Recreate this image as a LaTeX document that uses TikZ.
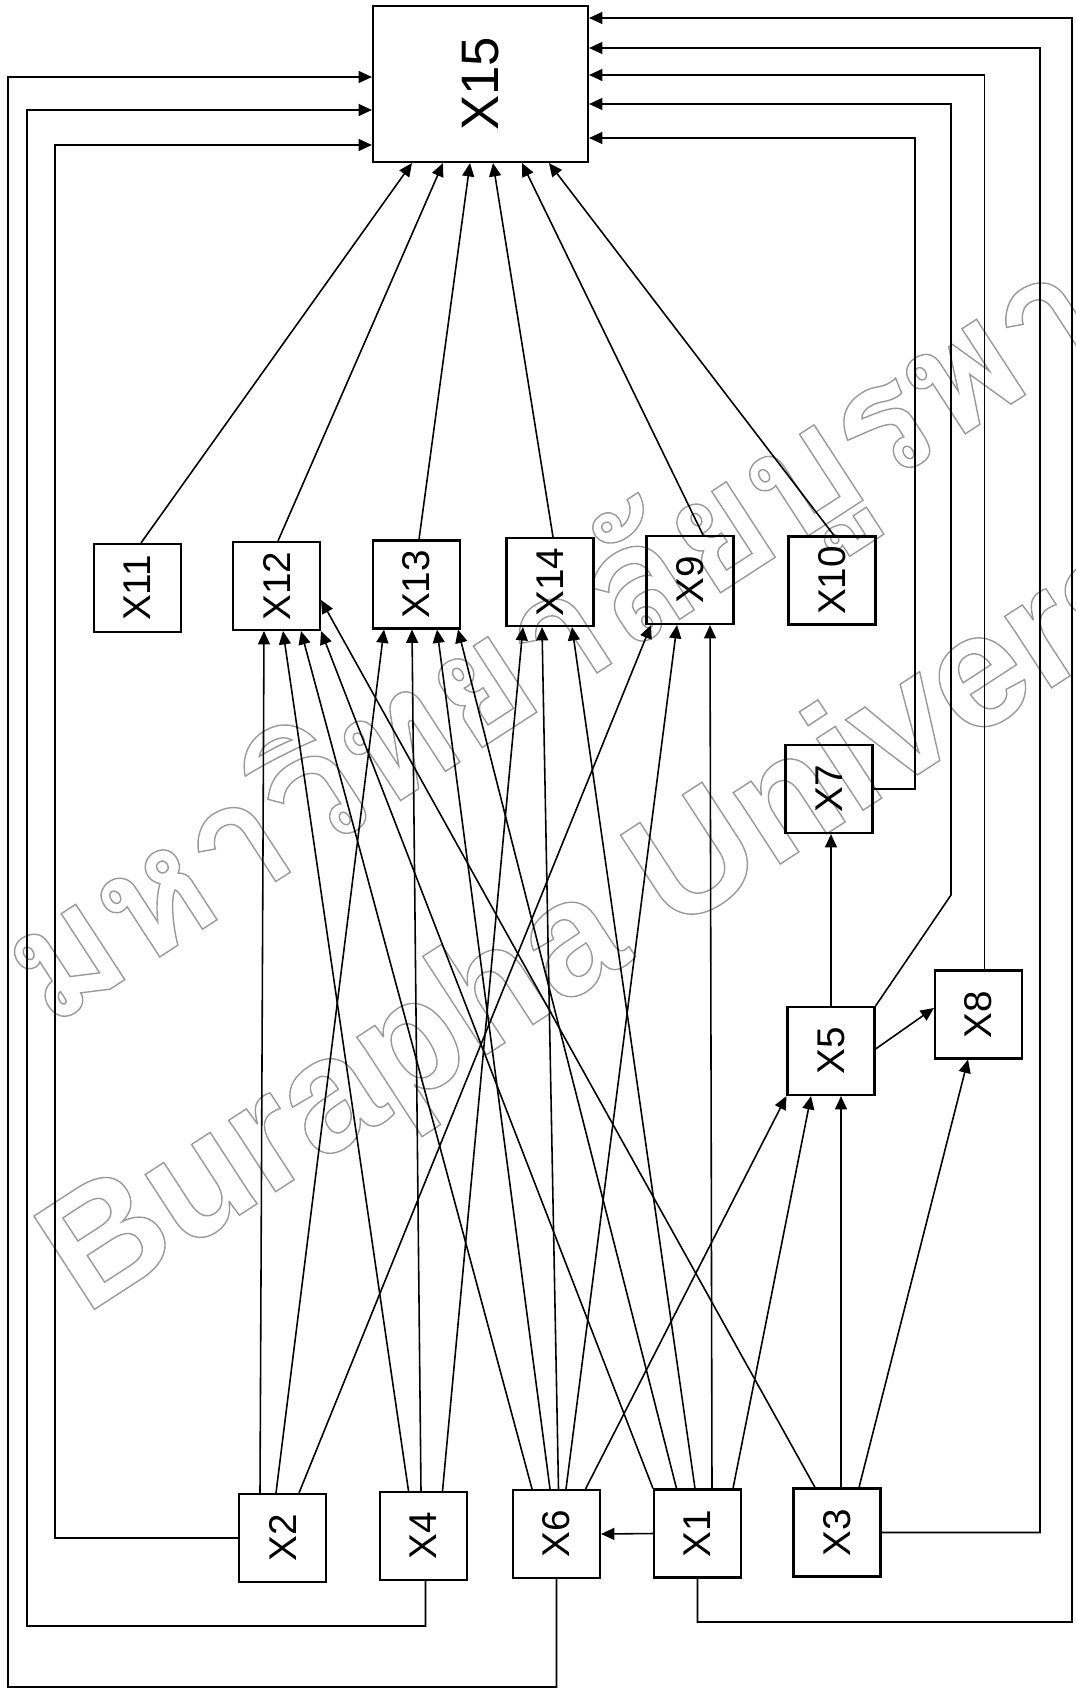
\documentclass[tikz,border=0pt]{standalone}
\usepackage{fontspec}
\setmainfont{Liberation Sans}
\newfontfamily\thaifont[Script=Thai]{Loma}
\usepackage{graphicx}
\usetikzlibrary{arrows.meta}
\definecolor{mark}{HTML}{9A9A9A}
\newcommand{\vlabel}[1]{\rotatebox{90}{#1}}
\newcommand{\hollow}[1]{\special{pdf:literal direct 1 Tr 0.4 w}#1\special{pdf:literal direct 0 Tr}}

\begin{document}
\begin{tikzpicture}[x=0.1mm,y=-0.1mm,
  box/.style={draw,line width=0.6pt,minimum width=8.7mm,minimum height=8.8mm,inner sep=0pt,font=\fontsize{11}{11}\selectfont},
  arr/.style={line width=0.45pt,-{Triangle[length=3.8pt,width=3.4pt]}}]
  \useasboundingbox (0,0) rectangle (1076,1693);
  \node[anchor=base west,rotate=33,text=mark,font=\thaifont\bfseries\fontsize{46}{46}\selectfont] (wmth) at (38,1036) {\hollow{มหาวิทยาลัยบูรพา}};
  \node[anchor=base west,rotate=33,text=mark,font=\bfseries\fontsize{46}{46}\selectfont] (wmen) at (75,1322) {\hollow{Burapha University}};

  \node[box,minimum width=21.5mm,minimum height=15.6mm,font=\fontsize{15}{15}\selectfont] (x15) at (480.5,84) {\vlabel{X15}};
  \node[box] (x11) at (137.5,588) {\vlabel{X11}};
  \node[box] (x12) at (276.5,586) {\vlabel{X12}};
  \node[box] (x13) at (416.5,584.5) {\vlabel{X13}};
  \node[box] (x14) at (550,582) {\vlabel{X14}};
  \node[box] (x9) at (690,580) {\vlabel{X9}};
  \node[box] (x10) at (832,580.5) {\vlabel{X10}};
  \node[box] (x7) at (829,789) {\vlabel{X7}};
  \node[box] (x5) at (831,1051) {\vlabel{X5}};
  \node[box] (x8) at (978.5,1014.5) {\vlabel{X8}};
  \node[box] (x2) at (282.5,1538) {\vlabel{X2}};
  \node[box] (x4) at (423.5,1536) {\vlabel{X4}};
  \node[box] (x6) at (556.5,1534) {\vlabel{X6}};
  \node[box] (x1) at (697.5,1533.5) {\vlabel{X1}};
  \node[box] (x3) at (837,1532.5) {\vlabel{X3}};

  \draw[arr] ([xshift=0.35mm]x11.north) -- ([xshift=-6.85mm]x15.south);
  \draw[arr] ([xshift=0.15mm]x12.north) -- ([xshift=-3.75mm]x15.south);
  \draw[arr] ([xshift=0.25mm]x13.north) -- ([xshift=-1.05mm]x15.south);
  \draw[arr] ([xshift=0.3mm]x14.north) -- ([xshift=1.25mm]x15.south);
  \draw[arr] ([xshift=1.3mm]x9.north) -- ([xshift=4.15mm]x15.south);
  \draw[arr] ([xshift=0.2mm]x10.north) -- ([xshift=6.85mm]x15.south);

  \draw[arr] ([xshift=-2.25mm]x2.north) -- ([xshift=-1.25mm]x12.south);
  \draw[arr] ([xshift=-0.65mm]x2.north) -- ([xshift=-3.25mm]x13.south);
  \draw[arr] ([xshift=1.65mm]x2.north) -- ([xshift=-3.9mm]x9.south);
  \draw[arr] ([xshift=-1.5mm]x4.north) -- ([xshift=0.65mm]x12.south);
  \draw[arr] ([xshift=-0.25mm]x4.north) -- ([xshift=-0.45mm]x13.south);
  \draw[arr] ([xshift=1.9mm]x4.north) -- ([xshift=-2.7mm]x14.south);
  \draw[arr] ([xshift=-2.45mm]x6.north) -- ([xshift=2.45mm]x12.south);
  \draw[arr] ([xshift=-0.65mm]x6.north) -- ([xshift=2.05mm]x13.south);
  \draw[arr] ([xshift=0.2mm]x6.north) -- ([xshift=-0.8mm]x14.south);
  \draw[arr] ([xshift=0.95mm]x6.north) -- ([xshift=-1.3mm]x9.south);
  \draw[arr] ([xshift=2.9mm]x6.north) -- (x5.south west);
  \draw[arr] (x1.north west) -- (x12.south east);
  \draw[arr] ([xshift=-2.1mm]x1.north) -- ([xshift=4.15mm]x13.south);
  \draw[arr] ([xshift=-0.25mm]x1.north) -- ([xshift=2.2mm]x14.south);
  \draw[arr] ([xshift=1.45mm]x1.north) -- ([xshift=2mm]x9.south);
  \draw[arr] ([xshift=3.55mm]x1.north) -- ([xshift=-2mm]x5.south);
  \draw[arr] ([xshift=-2.2mm]x3.north) -- ([yshift=-1.4mm]x12.east);
  \draw[arr] ([xshift=0.4mm]x3.north) -- ([xshift=1mm]x5.south);
  \draw[arr] ([xshift=2.2mm]x3.north) -- ([xshift=-1.05mm]x8.south);
  \draw[arr] (x1.west) -- (x6.east);
  \draw[arr] (x5.north) -- (x5.north |- x7.south);
  \draw[arr] ([yshift=0.2mm]x5.east) -- ([yshift=0.65mm]x8.west);

  \draw[arr] (x2.west) -| (55,145) -- ([yshift=-6.1mm]x15.west);
  \draw[arr] ([xshift=0.2mm]x4.south) |- (27,1626) -- (27,110) -- ([yshift=-2.6mm]x15.west);
  \draw[arr] (x6.south) |- (8,1687) -- (8,77) -- ([yshift=0.7mm]x15.west);
  \draw[arr] (x1.south) |- (1072,1622) -- (1072,18) -- ([yshift=6.6mm]x15.east);
  \draw[arr] (x3.east) -| (1040,48) -- ([yshift=3.6mm]x15.east);
  \draw[arr] ([xshift=0.6mm]x8.north) |- ([yshift=0.9mm]x15.east);
  \draw[arr] (x5.north east) -- (951,895) |- ([yshift=-2mm]x15.east);
  \draw[arr] (x7.east) -| (915,138) -- ([yshift=-5.4mm]x15.east);
\end{tikzpicture}
\end{document}
